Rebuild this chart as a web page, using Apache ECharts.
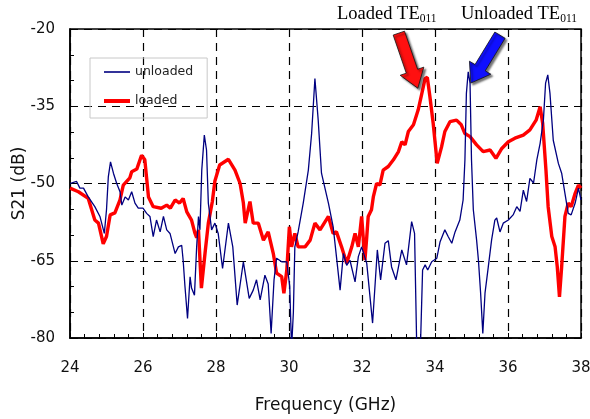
<!DOCTYPE html>
<html>
<head>
<meta charset="utf-8">
<script src="https://cdn.jsdelivr.net/npm/echarts@6/dist/echarts.min.js"></script>
<style>
  html, body { margin: 0; padding: 0; background: #fff; }
  #chart { width: 590px; height: 419px; }
</style>
</head>
<body>
<div id="chart"></div>
<script>
// 频率 (GHz) / S21 (dB)
const unloadedFreq = [24.0, 24.18, 24.27, 24.37, 24.5, 24.68, 24.82, 24.94, 25.0, 25.05, 25.11, 25.19, 25.28, 25.37, 25.42, 25.51, 25.6, 25.69, 25.78, 25.87, 26.0, 26.1, 26.19, 26.28, 26.37, 26.47, 26.56, 26.65, 26.74, 26.88, 26.97, 27.06, 27.1, 27.15, 27.22, 27.29, 27.33, 27.41, 27.47, 27.52, 27.56, 27.61, 27.68, 27.74, 27.79, 27.88, 27.97, 28.06, 28.18, 28.34, 28.46, 28.58, 28.75, 28.91, 29.02, 29.11, 29.21, 29.34, 29.43, 29.51, 29.59, 29.66, 29.8, 29.94, 30.02, 30.07, 30.12, 30.16, 30.25, 30.39, 30.53, 30.62, 30.71, 30.8, 30.89, 31.08, 31.21, 31.3, 31.4, 31.49, 31.58, 31.67, 31.81, 31.9, 31.99, 32.13, 32.29, 32.42, 32.51, 32.63, 32.72, 32.81, 32.93, 33.09, 33.22, 33.36, 33.44, 33.5, 33.6, 33.66, 33.73, 33.8, 33.91, 34.05, 34.14, 34.27, 34.36, 34.46, 34.55, 34.68, 34.77, 34.82, 34.86, 34.91, 34.96, 35.0, 35.05, 35.14, 35.19, 35.25, 35.31, 35.37, 35.46, 35.55, 35.64, 35.69, 35.78, 35.87, 36.01, 36.14, 36.24, 36.33, 36.42, 36.51, 36.6, 36.7, 36.79, 36.88, 36.97, 37.03, 37.09, 37.15, 37.24, 37.38, 37.47, 37.56, 37.65, 37.73, 37.84, 37.93, 38.0];
const unloadedS21 = [-50.0, -49.6, -50.9, -50.9, -52.6, -54.5, -56.4, -59.7, -55.1, -48.7, -45.8, -48.0, -50.0, -51.6, -54.2, -52.6, -53.2, -51.6, -53.8, -54.8, -54.8, -55.8, -56.4, -60.3, -57.1, -59.4, -56.4, -59.0, -59.7, -63.6, -62.3, -62.0, -64.9, -70.0, -76.2, -68.1, -70.3, -71.7, -62.3, -56.4, -59.0, -47.4, -40.6, -43.5, -53.8, -59.0, -57.7, -59.7, -66.5, -57.7, -62.3, -73.6, -65.2, -72.3, -70.7, -68.7, -72.6, -67.8, -69.5, -79.1, -68.7, -64.5, -65.2, -65.2, -70.0, -82.0, -75.0, -62.3, -59.4, -53.8, -47.4, -40.3, -29.6, -37.7, -48.0, -53.8, -58.4, -64.2, -70.7, -63.6, -65.9, -64.9, -69.1, -64.2, -62.3, -65.5, -77.1, -62.9, -68.7, -61.6, -61.1, -66.2, -68.7, -62.9, -65.8, -57.4, -59.7, -82.0, -82.0, -66.8, -65.8, -66.8, -65.2, -64.5, -61.3, -59.0, -60.3, -61.6, -59.4, -57.1, -53.2, -45.4, -32.5, -28.3, -30.5, -45.4, -55.1, -61.0, -64.9, -71.3, -79.1, -71.3, -66.2, -61.0, -57.1, -56.7, -59.4, -57.7, -57.1, -56.1, -54.5, -55.4, -51.3, -53.5, -49.0, -49.9, -45.4, -42.2, -37.7, -30.5, -28.9, -32.5, -41.6, -46.1, -48.0, -51.9, -55.8, -56.1, -53.8, -50.9, -53.2];

const loadedFreq = [24.0, 24.23, 24.5, 24.68, 24.78, 24.91, 25.0, 25.1, 25.23, 25.37, 25.46, 25.64, 25.69, 25.83, 25.96, 26.05, 26.15, 26.28, 26.5, 26.65, 26.75, 26.88, 27.0, 27.1, 27.2, 27.33, 27.42, 27.47, 27.52, 27.6, 27.7, 27.79, 27.9, 27.97, 28.1, 28.34, 28.52, 28.66, 28.75, 28.8, 28.93, 29.02, 29.16, 29.3, 29.43, 29.57, 29.66, 29.8, 29.86, 29.94, 30.01, 30.07, 30.16, 30.25, 30.44, 30.58, 30.71, 30.85, 31.08, 31.21, 31.3, 31.44, 31.58, 31.72, 31.81, 31.9, 31.99, 32.08, 32.13, 32.17, 32.26, 32.31, 32.4, 32.49, 32.58, 32.72, 32.86, 33.0, 33.09, 33.18, 33.27, 33.41, 33.54, 33.64, 33.73, 33.79, 33.86, 33.95, 34.06, 34.18, 34.27, 34.41, 34.59, 34.72, 34.82, 34.96, 35.14, 35.32, 35.51, 35.67, 35.83, 36.01, 36.19, 36.42, 36.6, 36.77, 36.88, 36.95, 37.04, 37.1, 37.2, 37.29, 37.35, 37.41, 37.47, 37.56, 37.65, 37.73, 37.84, 37.93, 38.0];
const loadedS21 = [-50.9, -51.6, -52.9, -57.1, -57.7, -61.7, -60.3, -56.1, -55.7, -53.2, -50.3, -48.9, -47.7, -47.2, -44.5, -45.4, -52.6, -54.5, -54.8, -54.2, -54.8, -53.2, -53.8, -52.9, -55.5, -57.1, -59.6, -60.5, -59.0, -70.3, -63.5, -57.7, -53.5, -49.5, -46.4, -45.3, -47.4, -50.0, -53.8, -57.7, -53.5, -57.7, -57.7, -61.0, -59.4, -63.6, -67.4, -68.1, -71.3, -66.8, -58.4, -62.3, -59.7, -62.3, -62.3, -61.0, -57.7, -59.0, -56.4, -59.7, -59.4, -62.3, -65.5, -62.3, -59.7, -62.3, -56.4, -64.9, -60.4, -56.4, -55.1, -52.6, -50.0, -50.3, -47.4, -46.7, -45.4, -43.8, -41.9, -42.5, -39.9, -38.6, -35.7, -32.5, -29.6, -29.4, -33.1, -38.3, -46.1, -42.9, -39.9, -38.0, -37.7, -38.6, -40.3, -40.9, -42.5, -43.8, -43.5, -45.1, -43.2, -41.9, -41.2, -40.6, -39.6, -37.7, -35.1, -38.3, -47.4, -54.5, -60.3, -62.3, -66.2, -72.0, -66.2, -56.4, -53.8, -54.5, -51.9, -50.3, -50.9];

const seriesNames = ['unloaded', 'loaded'];
const xAxisRange = { min: 24, max: 38, interval: 2 };
const yAxisRange = { min: -80, max: -20, interval: 15 };

// 箭头标注：尾/尖 用数据坐标，渲染时换算成像素
const arrowNotes = [
  { color: '#ff1010', tail: [33.01, -20.8], tip: [33.53, -31.5] },
  { color: '#1010ff', tail: [35.78, -21.2], tip: [34.98, -30.5] }
];
const noteLabels = [
  { text: 'Loaded TE', sub: '011', x: 337 },
  { text: 'Unloaded TE', sub: '011', x: 461 }
];

const zip = (xs, ys) => xs.map((x, i) => [x, ys[i]]);

const el = document.getElementById('chart');
const chart = echarts.init(el, null, { renderer: 'canvas' });

const axisFont = 'DejaVu Sans';
const dashed = { color: '#000', type: [8, 6], width: 1.2 };
// 图例只画线段（细蓝/粗红），外加两个空 moveTo 撑出 26x14 的包围盒
const legendIcons = {
  unloaded: 'path://M0,0 M0,6.2 L26,6.2 L26,7.8 L0,7.8 Z M26,14',
  loaded: 'path://M0,0 M0,5 L26,5 L26,9 L0,9 Z M26,14'
};

chart.setOption({
  backgroundColor: '#fff',
  animation: false,
  // v6 默认会为了装下刻度标签而收缩绘图区，这里固定住
  grid: { left: 70, top: 29, right: 9, bottom: 81, outerBoundsMode: 'none', containLabel: false,
          show: true, borderColor: '#000', borderWidth: 1.5, backgroundColor: 'transparent' },
  legend: {
    data: seriesNames.map(n => ({ name: n, icon: legendIcons[n] })),
    orient: 'vertical', left: 90, top: 58,
    padding: [7, 14, 10, 14], itemGap: 15, itemWidth: 26, itemHeight: 14,
    borderColor: '#c8c8c8', borderWidth: 1,
    textStyle: { color: '#222', fontFamily: axisFont, fontSize: 12.5 }
  },
  xAxis: {
    type: 'value', min: xAxisRange.min, max: xAxisRange.max, interval: xAxisRange.interval,
    name: 'Frequency (GHz)', nameLocation: 'middle', nameGap: 59,
    nameTextStyle: { color: '#111', fontFamily: axisFont, fontSize: 17 },
    axisLine: { show: true, lineStyle: { color: '#000', width: 1.5 } },
    axisTick: { show: true, inside: true, length: 5, lineStyle: { color: '#000' } },
    minorTick: { show: true, splitNumber: 5, length: 4, lineStyle: { color: '#000' } },
    axisLabel: { color: '#111', fontFamily: axisFont, fontSize: 15, margin: 23 },
    splitLine: { show: true, lineStyle: dashed }
  },
  yAxis: {
    type: 'value', min: yAxisRange.min, max: yAxisRange.max, interval: yAxisRange.interval,
    name: 'S21 (dB)', nameLocation: 'middle', nameGap: 42, nameMoveOverlap: false,
    nameTextStyle: { color: '#111', fontFamily: axisFont, fontSize: 17 },
    axisLine: { show: true, lineStyle: { color: '#000', width: 1.5 } },
    axisTick: { show: true, inside: true, length: 5, lineStyle: { color: '#000' } },
    minorTick: { show: true, splitNumber: 3, length: 4, lineStyle: { color: '#000' } },
    axisLabel: { color: '#111', fontFamily: axisFont, fontSize: 15, margin: 15 },
    splitLine: { show: true, lineStyle: dashed }
  },
  series: [
    { name: 'loaded', type: 'line', data: zip(loadedFreq, loadedS21), symbol: 'none', z: 3,
      itemStyle: { color: '#ff0000' }, lineStyle: { color: '#ff0000', width: 3.4 } },
    { name: 'unloaded', type: 'line', data: zip(unloadedFreq, unloadedS21), symbol: 'none', z: 4,
      itemStyle: { color: '#000080' }, lineStyle: { color: '#000080', width: 1.3 } }
  ]
});

function arrowPolygon(p0, p1) {
  const dx = p1[0] - p0[0], dy = p1[1] - p0[1];
  const len = Math.hypot(dx, dy);
  const ux = dx / len, uy = dy / len, nx = -uy, ny = ux;
  const shaft = 6, head = 12.5, headLen = 18;
  const bx = p1[0] - ux * headLen, by = p1[1] - uy * headLen;
  return [
    [p0[0] + nx * shaft, p0[1] + ny * shaft],
    [bx + nx * shaft, by + ny * shaft],
    [bx + nx * head, by + ny * head],
    [p1[0], p1[1]],
    [bx - nx * head, by - ny * head],
    [bx - nx * shaft, by - ny * shaft],
    [p0[0] - nx * shaft, p0[1] - ny * shaft]
  ];
}

const graphics = arrowNotes.map(a => ({
  type: 'polygon', z: 100,
  shape: { points: arrowPolygon(chart.convertToPixel('grid', a.tail), chart.convertToPixel('grid', a.tip)) },
  style: { fill: a.color, stroke: '#111', lineWidth: 0.8, shadowColor: 'rgba(0,0,0,0.55)', shadowBlur: 2, shadowOffsetX: 2, shadowOffsetY: 2 }
}));
noteLabels.forEach(t => graphics.push({
  type: 'text', z: 100,
  style: {
    x: t.x, y: 4, text: '{a|' + t.text + '}{s|' + t.sub + '}',
    rich: {
      a: { fontFamily: 'Liberation Serif', fontSize: 18.5, fill: '#000', lineHeight: 21 },
      s: { fontFamily: 'Liberation Serif', fontSize: 11.5, fill: '#000', lineHeight: 6, verticalAlign: 'bottom' }
    }
  }
}));
chart.setOption({ graphic: graphics });
</script>
</body>
</html>
